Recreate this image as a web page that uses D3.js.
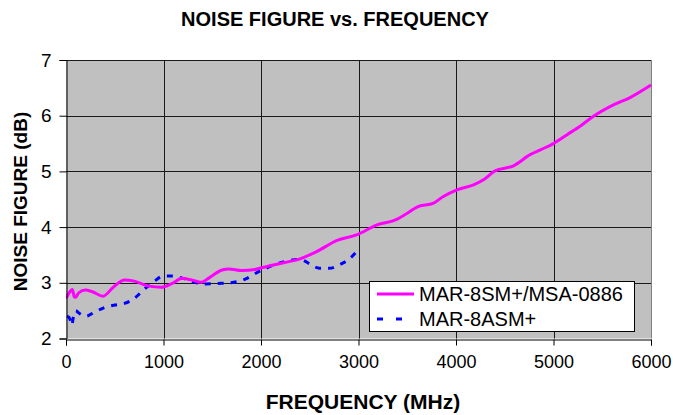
<!DOCTYPE html>
<html><head><meta charset="utf-8">
<script src="https://cdn.jsdelivr.net/npm/d3@7"></script>
<style>body{margin:0;background:#fff}svg{display:block;font-family:Arial,"Liberation Sans",sans-serif}</style>
</head><body>
<svg id="c" width="673" height="415"></svg>
<script>
const xTicks = [0,1000,2000,3000,4000,5000,6000];
const yTicks = [2,3,4,5,6,7];
const seriesNames = ["MAR-8SM+/MSA-0886","MAR-8ASM+"];
const magentaFreq = [0,40,65,85,100,130,200,270,380,490,600,700,850,980,1090,1190,1290,1390,1460,1600,1670,1800,1940,2030,2230,2400,2570,2780,2980,3190,3380,3500,3600,3770,3870,4010,4180,4290,4400,4590,4760,4870,4990,5140,5280,5410,5620,5790,6000];
const magentaNF = [2.72,2.84,2.88,2.75,2.74,2.82,2.87,2.84,2.76,2.93,3.05,3.03,2.94,2.92,2.99,3.08,3.05,3.01,3.08,3.23,3.25,3.22,3.24,3.28,3.36,3.43,3.56,3.76,3.86,4.04,4.13,4.25,4.36,4.43,4.55,4.67,4.76,4.86,5.01,5.10,5.30,5.39,5.49,5.66,5.82,5.99,6.20,6.33,6.55];
const blueFreq = [10,30,50,60,75,100,130,200,300,400,500,600,700,800,900,1000,1100,1200,1300,1400,1600,1800,2000,2200,2400,2500,2600,2700,2800,2900,3000];
const blueNF = [2.40,2.38,2.30,2.24,2.38,2.50,2.46,2.40,2.48,2.56,2.60,2.63,2.72,2.88,3.02,3.12,3.12,3.08,3.02,2.98,2.99,3.04,3.22,3.36,3.42,3.34,3.26,3.26,3.32,3.42,3.60];

const svg = d3.select("#c");
const L=66, R=651, T=60, B=338.5;
const x = d3.scaleLinear().domain([0,6000]).range([L,R]);
const y = d3.scaleLinear().domain([2,7]).range([B,T]);

svg.append("rect").attr("x",L).attr("y",T).attr("width",R-L).attr("height",B-T).attr("fill","#c0c0c0");
// grid
svg.append("g").selectAll("line").data(yTicks.filter(d=>d>2)).join("line")
  .attr("x1",L).attr("x2",R).attr("y1",d=>Math.round(y(d))+0.5).attr("y2",d=>Math.round(y(d))+0.5)
  .attr("stroke","#1a1a1a").attr("stroke-width",1);
svg.append("g").selectAll("line").data(xTicks.filter(d=>d>0&&d<6000)).join("line")
  .attr("y1",T).attr("y2",B).attr("x1",d=>Math.round(x(d))+0.5).attr("x2",d=>Math.round(x(d))+0.5)
  .attr("stroke","#1a1a1a").attr("stroke-width",1);
svg.append("line").attr("x1",Math.round(R)+0.5).attr("x2",Math.round(R)+0.5).attr("y1",T).attr("y2",B).attr("stroke","#808080");

const clip = svg.append("clipPath").attr("id","pc").append("rect").attr("x",L).attr("y",T-3).attr("width",R-L+2).attr("height",B-T+3);

const line = d3.line().x(d=>x(d[0])).y(d=>y(d[1])).curve(d3.curveMonotoneX);
const magenta = magentaFreq.map((f,i)=>[f,magentaNF[i]]);
const blue = blueFreq.map((f,i)=>[f,blueNF[i]]);
const lines = svg.append("g").attr("clip-path","url(#pc)");
lines.append("path").datum(blue).attr("d",line).attr("fill","none").attr("stroke","#0000ff").attr("stroke-width",3).attr("stroke-dasharray","6,7");
lines.append("path").datum(magenta).attr("d",line).attr("fill","none").attr("stroke","#ff00ff").attr("stroke-width",3);

// axes
const xa = svg.append("g").attr("transform",`translate(0,${Math.round(B)+0.5})`)
  .call(d3.axisBottom(x).tickValues(xTicks).tickFormat(d3.format("d")).tickSize(6).tickPadding(10));
xa.select(".domain").attr("stroke","#000");
xa.selectAll("text").attr("font-size","18px").attr("font-family","Arial, 'Liberation Sans', sans-serif").attr("fill","#000");
const ya = svg.append("g").attr("transform",`translate(${Math.round(L)+0.5},0)`)
  .call(d3.axisLeft(y).tickValues(yTicks).tickFormat(d3.format("d")).tickSize(7).tickPadding(8));
ya.select(".domain").attr("stroke","#000");
ya.selectAll("text").attr("font-size","19px").attr("font-family","Arial, 'Liberation Sans', sans-serif").attr("fill","#000");

// titles
svg.append("text").attr("x",335).attr("y",26).attr("text-anchor","middle").attr("font-weight","bold").attr("font-size","20px").text("NOISE FIGURE vs. FREQUENCY");
svg.append("text").attr("x",363).attr("y",409).attr("text-anchor","middle").attr("font-weight","bold").attr("font-size","21px").text("FREQUENCY (MHz)");
svg.append("text").attr("transform","translate(26.5,201.5) rotate(-90)").attr("text-anchor","middle").attr("font-weight","bold").attr("font-size","19px").text("NOISE FIGURE (dB)");

// legend
const lg = svg.append("g");
lg.append("rect").attr("x",369.5).attr("y",281.5).attr("width",265).attr("height",50).attr("fill","#fff").attr("stroke","#000");
const rows=[{c:"#ff00ff",dash:null,y:294},{c:"#0000ff",dash:"6,13",y:319}];
rows.forEach((r,i)=>{
  lg.append("line").attr("x1",377).attr("x2",414).attr("y1",r.y).attr("y2",r.y).attr("stroke",r.c).attr("stroke-width",3).attr("stroke-dasharray",r.dash);
  lg.append("text").attr("x",419).attr("y",r.y+7).attr("font-size","20px").text(seriesNames[i]);
});
</script>
</body></html>
